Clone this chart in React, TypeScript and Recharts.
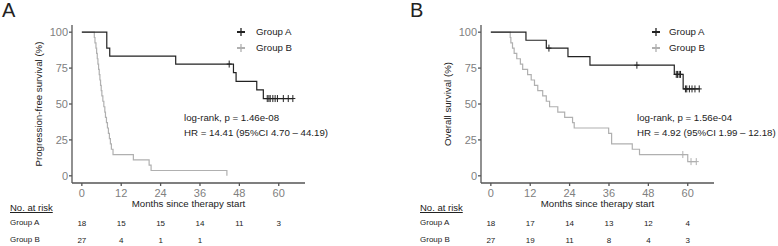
import React from 'react';
import {
  ComposedChart,
  Line,
  Scatter,
  XAxis,
  YAxis,
  Label,
} from 'recharts';

// Axis ticks
const MONTH_TICKS = [0, 12, 24, 36, 48, 60];
const SURV_TICKS = [0, 25, 50, 75, 100];

// Panel A: progression-free survival
const pfsAEventMonths = [7.6, 8.5, 28.6, 46.2, 47.0, 53.3, 55.3];
const pfsAEventSurv = [88.9, 83.3, 77.8, 71.8, 65.8, 59.8, 53.8];
const pfsACensorMonths = [44.9, 56.5, 57.0, 57.4, 58.2, 58.9, 59.6, 61.4, 62.9, 64.3];

const pfsBEventMonths = [
  3.8, 4.0, 4.3, 4.5, 4.7, 4.9, 5.1, 5.3, 5.5, 5.7, 5.9, 6.1, 6.4, 6.7, 7.0,
  7.2, 7.5, 7.8, 8.1, 8.4, 8.7, 9.0, 9.5, 15.7, 20.5, 21.1, 44.2,
];
const pfsBEventSurv = [
  96.3, 92.6, 88.9, 85.2, 81.5, 77.8, 74.1, 70.4, 66.7, 63.0, 59.3, 55.6, 51.9,
  48.1, 44.4, 40.7, 37.0, 33.3, 29.6, 25.9, 22.2, 18.5, 14.8, 11.1, 7.4, 3.7, 0,
];
const pfsBCensorMonths: number[] = [];

// Panel B: overall survival
const osAEventMonths = [10.7, 16.9, 23.5, 30.2, 55.9, 58.6];
const osAEventSurv = [94.4, 88.9, 83.0, 77.0, 70.6, 60.5];
const osACensorMonths = [17.7, 44.5, 56.5, 56.9, 57.4, 57.8, 59.3, 59.7, 60.5, 61.3, 62.2, 63.5];

const osBEventMonths = [
  5.9, 6.1, 6.6, 7.1, 7.9, 9.0, 9.7, 11.2, 12.3, 13.3, 14.3, 15.8, 16.9, 17.9,
  20.4, 22.5, 24.9, 25.4, 35.9, 36.8, 43.1, 45.3, 60.0,
];
const osBEventSurv = [
  96.3, 92.6, 88.9, 85.2, 81.5, 77.8, 74.1, 70.4, 66.7, 63.0, 59.3, 55.6, 51.9,
  48.1, 44.4, 40.7, 37.0, 33.3, 29.6, 22.2, 18.5, 14.8, 9.9,
];
const osBCensorMonths = [58.5, 61.0, 62.6];

// Numbers at risk (null = blank cell)
const pfsRiskA = [18, 15, 15, 14, 11, 3];
const pfsRiskB = [27, 4, 1, 1, null, null];
const osRiskA = [18, 17, 14, 13, 12, 4];
const osRiskB = [27, 19, 11, 8, 4, 3];

const FONT = '"Liberation Sans", Arial, Helvetica, sans-serif';
const DARK = '#222222';
const LIGHT = '#b0b0b0';
const AXIS = '#555555';
const TICK = '#808080';
const X_DOMAIN = [-3, 68];

type Pt = { month: number; surv: number; censor: boolean };

function buildCurve(eventMonths: number[], eventSurv: number[], censorMonths: number[]): Pt[] {
  const pts: Pt[] = [{ month: 0, surv: 100, censor: false }];
  eventMonths.forEach((m, i) => pts.push({ month: m, surv: eventSurv[i], censor: false }));
  censorMonths.forEach((m) => {
    let s = 100;
    eventMonths.forEach((em, i) => {
      if (em <= m) s = eventSurv[i];
    });
    pts.push({ month: m, surv: s, censor: true });
  });
  return pts.sort((a, b) => a.month - b.month);
}

function censorDot(color: string) {
  return (props: any) => {
    const { cx, cy, payload, index } = props;
    if (!payload?.censor || cx == null || cy == null) return <g key={`n${index}`} />;
    return (
      <g key={`c${index}`} stroke={color} strokeWidth={1}>
        <line x1={cx} x2={cx} y1={cy - 3.5} y2={cy + 3.5} />
        <line x1={cx - 2.5} x2={cx + 2.5} y1={cy} y2={cy} />
      </g>
    );
  };
}

function Txt({ x, y, size, color = DARK, children, underline }: {
  x: number; y: number; size: number; color?: string; children: React.ReactNode; underline?: boolean;
}) {
  return (
    <div
      style={{
        position: 'absolute',
        left: x,
        top: y - size * 0.6,
        fontSize: size,
        lineHeight: `${size * 1.2}px`,
        color,
        whiteSpace: 'nowrap',
        textDecoration: underline ? 'underline' : 'none',
      }}
    >
      {children}
    </div>
  );
}

function PlusIcon({ x, y, color }: { x: number; y: number; color: string }) {
  return (
    <svg style={{ position: 'absolute', left: x - 5, top: y - 5 }} width={10} height={10}>
      <line x1={1} x2={9} y1={5} y2={5} stroke={color} strokeWidth={2} />
      <line x1={5} x2={5} y1={1} y2={9} stroke={color} strokeWidth={1.3} />
    </svg>
  );
}

function RiskCell(props: any) {
  const { cx, cy, payload } = props;
  return (
    <text x={cx} y={cy} dy="0.35em" textAnchor="middle" fontSize={8} fill={DARK} fontFamily={FONT}>
      {payload.n}
    </text>
  );
}

type PanelProps = {
  left: number;
  width: number;
  yLabel: string;
  curveA: Pt[];
  curveB: Pt[];
  riskA: (number | null)[];
  riskB: (number | null)[];
};

function KmPanel({ left, width, yLabel, curveA, curveB, riskA, riskB }: PanelProps) {
  const right = width - 305;
  const riskRows = [
    ...MONTH_TICKS.map((m, i) => ({ month: m, row: 1, n: riskA[i] })),
    ...MONTH_TICKS.map((m, i) => ({ month: m, row: 0, n: riskB[i] })),
  ].filter((d) => d.n != null);

  return (
    <>
      <div style={{ position: 'absolute', left, top: 0 }}>
        <ComposedChart width={width} height={215} margin={{ top: 25, right, left: 32, bottom: 2 }}>
          <XAxis
            dataKey="month"
            type="number"
            domain={X_DOMAIN}
            ticks={MONTH_TICKS}
            interval={0}
            height={30}
            tickSize={3}
            tickMargin={3}
            stroke={AXIS}
            strokeWidth={1.3}
            tick={{ fill: TICK, fontSize: 11, fontFamily: FONT }}
          >
            <Label
              value="Months since therapy start"
              position="insideBottom"
              offset={6}
              style={{ fill: DARK, fontSize: 9.7, fontFamily: FONT }}
            />
          </XAxis>
          <YAxis
            dataKey="surv"
            type="number"
            domain={[-5, 105]}
            ticks={SURV_TICKS}
            interval={0}
            width={40}
            tickSize={3}
            tickMargin={1}
            stroke={AXIS}
            strokeWidth={1.3}
            tick={{ fill: TICK, fontSize: 11, fontFamily: FONT }}
          >
            <Label
              value={yLabel}
              angle={-90}
              position="insideLeft"
              offset={7}
              style={{ fill: DARK, fontSize: 9.7, fontFamily: FONT, textAnchor: 'middle' }}
            />
          </YAxis>
          <Line
            data={curveB}
            dataKey="surv"
            type="stepAfter"
            stroke={LIGHT}
            strokeWidth={1.2}
            dot={censorDot(LIGHT)}
            activeDot={false}
            isAnimationActive={false}
          />
          <Line
            data={curveA}
            dataKey="surv"
            type="stepAfter"
            stroke={DARK}
            strokeWidth={1.2}
            dot={censorDot(DARK)}
            activeDot={false}
            isAnimationActive={false}
          />
        </ComposedChart>
      </div>
      <div style={{ position: 'absolute', left, top: 214 }}>
        <ComposedChart width={width} height={35} margin={{ top: 9, right, left: 72, bottom: 9 }}>
          <XAxis dataKey="month" type="number" domain={X_DOMAIN} hide />
          <YAxis dataKey="row" type="number" domain={[0, 1]} hide />
          <Scatter data={riskRows} shape={RiskCell} isAnimationActive={false} />
        </ComposedChart>
      </div>
    </>
  );
}

export default function App() {
  const pfsA = buildCurve(pfsAEventMonths, pfsAEventSurv, pfsACensorMonths);
  const pfsB = buildCurve(pfsBEventMonths, pfsBEventSurv, pfsBCensorMonths);
  const osA = buildCurve(osAEventMonths, osAEventSurv, osACensorMonths);
  const osB = buildCurve(osBEventMonths, osBEventSurv, osBCensorMonths);

  return (
    <div
      style={{
        position: 'absolute',
        left: 0,
        top: 0,
        width: 778,
        height: 246,
        overflow: 'hidden',
        background: '#fff',
        fontFamily: FONT,
      }}
    >
      <KmPanel
        left={0}
        width={390}
        yLabel="Progression-free survival (%)"
        curveA={pfsA}
        curveB={pfsB}
        riskA={pfsRiskA}
        riskB={pfsRiskB}
      />
      <KmPanel
        left={409}
        width={369}
        yLabel="Overall survival (%)"
        curveA={osA}
        curveB={osB}
        riskA={osRiskA}
        riskB={osRiskB}
      />

      {/* panel letters */}
      <Txt x={2} y={10} size={20}>A</Txt>
      <Txt x={410} y={10} size={20}>B</Txt>

      {/* legends */}
      <PlusIcon x={241} y={32} color={DARK} />
      <Txt x={256} y={32} size={9.7}>Group A</Txt>
      <PlusIcon x={241} y={48} color={LIGHT} />
      <Txt x={256} y={48} size={9.7}>Group B</Txt>
      <PlusIcon x={656} y={32} color={DARK} />
      <Txt x={669} y={32} size={9.7}>Group A</Txt>
      <PlusIcon x={656} y={48} color={LIGHT} />
      <Txt x={669} y={48} size={9.7}>Group B</Txt>

      {/* test statistics */}
      <Txt x={184} y={118} size={9.7}>log-rank, p = 1.46e-08</Txt>
      <Txt x={184} y={133} size={9.7}>HR = 14.41 (95%CI 4.70 – 44.19)</Txt>
      <Txt x={637} y={118} size={9.7}>log-rank, p = 1.56e-04</Txt>
      <Txt x={637} y={133} size={9.7}>HR = 4.92 (95%CI 1.99 – 12.18)</Txt>

      {/* risk table labels */}
      <Txt x={10} y={207.5} size={9.5} underline>No. at risk</Txt>
      <Txt x={10} y={223} size={8}>Group A</Txt>
      <Txt x={10} y={240} size={8}>Group B</Txt>
      <Txt x={420} y={207.5} size={9.5} underline>No. at risk</Txt>
      <Txt x={420} y={223} size={8}>Group A</Txt>
      <Txt x={420} y={240} size={8}>Group B</Txt>
    </div>
  );
}
